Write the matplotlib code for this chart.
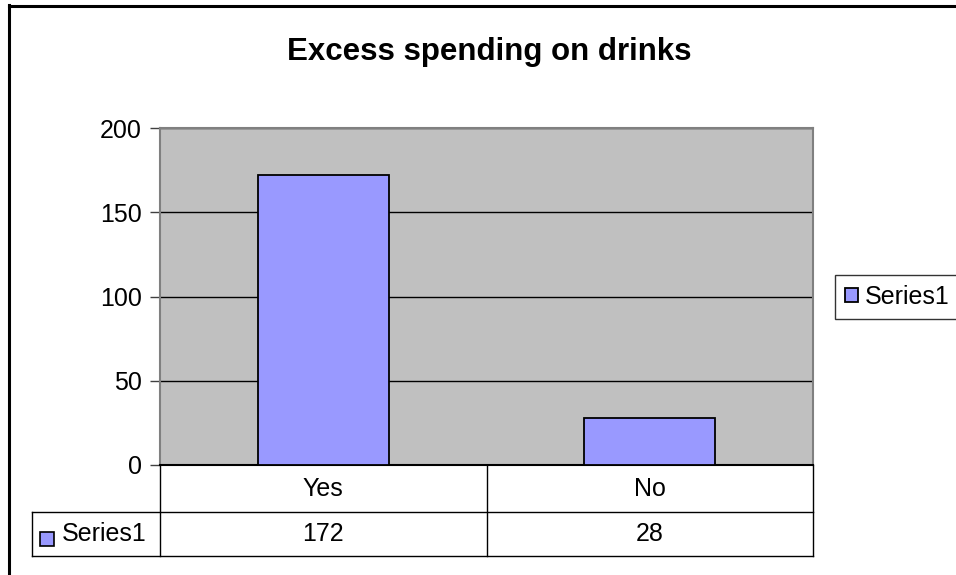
#!/usr/bin/env python3
import matplotlib
matplotlib.use('Agg')
import matplotlib.pyplot as plt
from matplotlib.lines import Line2D
from matplotlib.patches import Rectangle

# survey answers and their counts
categories = ['Yes', 'No']
counts = [172, 28]
series_name = 'Series1'
title = 'Excess spending on drinks'
y_ticks = [0, 50, 100, 150, 200]

BAR_COLOR = '#9999FF'
PLOT_BG = '#C0C0C0'
W, H = 956, 575

plt.rcParams['font.family'] = ['Liberation Sans', 'DejaVu Sans']
FS = 18


def fx(x):
    return x / W


def fy(y):
    return 1 - y / H


def hline(fig, x0, x1, y, color='black', lw=1.0):
    fig.add_artist(Line2D([fx(x0), fx(x1)], [fy(y), fy(y)], color=color, lw=lw))


def vline(fig, x, y0, y1, color='black', lw=1.0):
    fig.add_artist(Line2D([fx(x), fx(x)], [fy(y0), fy(y1)], color=color, lw=lw))


fig = plt.figure(figsize=(W / 100, H / 100), dpi=100)

# plot area in pixel terms: left 160, right 813, top 128, bottom 465
left, right, top, bottom = 160, 813, 128, 465
ax = fig.add_axes([fx(left), fy(bottom), fx(right - left), (bottom - top) / H])
ax.set_facecolor(PLOT_BG)

x = range(len(categories))
bars = ax.bar(x, counts, width=0.40, color=BAR_COLOR, edgecolor='black',
              linewidth=1.3, label=series_name, zorder=3)
ax.set_xlim(-0.5, len(categories) - 0.5)
ax.set_ylim(y_ticks[0], y_ticks[-1])
ax.set_yticks(y_ticks)
ax.set_xticks([])
ax.yaxis.grid(True, color='black', linewidth=1.0, zorder=1)
ax.set_axisbelow(True)
ax.tick_params(axis='y', labelsize=FS, length=7, width=1, color='#404040', pad=6)
for side in ['left', 'top', 'right']:
    ax.spines[side].set_color('#808080')
    ax.spines[side].set_linewidth(1.5)
ax.spines['bottom'].set_color('black')
ax.spines['bottom'].set_linewidth(1.5)

fig.text(fx(489), fy(52), title, ha='center', va='center',
         fontsize=22.5, fontweight='bold')

# data table under the plot
row1, row2, row3 = 465, 512, 556
col_edges = [left, (left + right) / 2, right]
vline(fig, left, row1, row3)
vline(fig, col_edges[1], row1, row3)
vline(fig, right, row1, row3)
hline(fig, 32, right, row2)
hline(fig, 32, right, row3)
vline(fig, 32, row2, row3)
for i, (cat, val) in enumerate(zip(categories, counts)):
    cx = (col_edges[i] + col_edges[i + 1]) / 2
    fig.text(fx(cx), fy((row1 + row2) / 2), cat, ha='center', va='center', fontsize=FS)
    fig.text(fx(cx), fy((row2 + row3) / 2), str(val), ha='center', va='center', fontsize=FS)
fig.add_artist(Rectangle((fx(40), fy(546)), fx(14), 14 / H, facecolor=BAR_COLOR,
                         edgecolor='black', lw=1.2))
fig.text(fx(62), fy((row2 + row3) / 2), series_name, ha='left', va='center', fontsize=FS)

# outer chart border (left and top edges)
vline(fig, 9, 5, H + 5, lw=2.2)
hline(fig, 9, W + 5, 6, lw=2.2)

leg = ax.legend(loc='center left', bbox_to_anchor=(fx(835), fy(297)),
                bbox_transform=fig.transFigure, fontsize=FS, frameon=True,
                fancybox=False, handlelength=0.5, handleheight=0.5,
                handletextpad=0.3, borderpad=0.4, borderaxespad=0)
leg.get_frame().set_edgecolor('black')
leg.get_frame().set_linewidth(1.0)

fig.savefig('out.png', dpi=100)
